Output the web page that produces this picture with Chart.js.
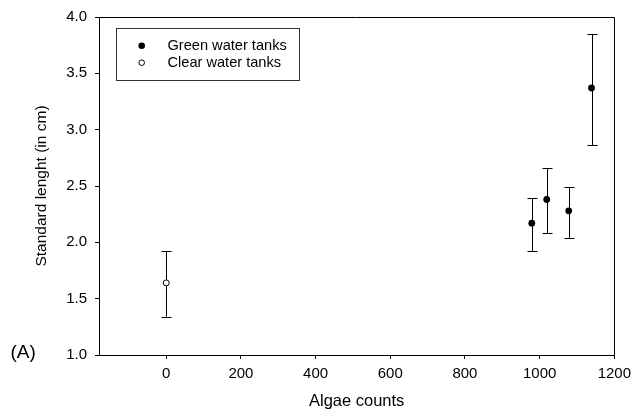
<!DOCTYPE html>
<html>
<head>
<meta charset="utf-8">
<script src="https://cdn.jsdelivr.net/npm/chart.js@4/dist/chart.umd.min.js"></script>
<style>
  html, body { margin: 0; padding: 0; background: #fff; }
  #wrap { width: 637px; height: 413px; }
</style>
</head>
<body>
<div id="wrap"><canvas id="chart" width="637" height="413"></canvas></div>
<script>
// values
const greenX = [979, 1019, 1078, 1139];
const greenY = [2.17, 2.38, 2.28, 3.37];
const greenHigh = [2.39, 2.66, 2.49, 3.85];
const greenLow = [1.92, 2.08, 2.04, 2.86];

const clearX = [0];
const clearY = [1.64];
const clearHigh = [1.92];
const clearLow = [1.34];

const xTicks = [0, 200, 400, 600, 800, 1000, 1200];
const yTicks = [1.0, 1.5, 2.0, 2.5, 3.0, 3.5, 4.0];

const seriesNames = ['Green water tanks', 'Clear water tanks'];
const xTitle = 'Algae counts';
const yTitle = 'Standard lenght (in cm)';
const panelLabel = '(A)';

const FONT = '"Liberation Sans", Arial, sans-serif';
Chart.defaults.font.family = FONT;
Chart.defaults.color = '#000';

function toPoints(xs, ys) {
    return xs.map((x, i) => ({ x: x, y: ys[i] }));
}

// vertical error bars with caps, drawn under the points
const errorBars = {
    id: 'errorBars',
    beforeDatasetsDraw(chart) {
        const ctx = chart.ctx;
        const xs = chart.scales.x, ys = chart.scales.y;
        const sets = [
            [greenX, greenHigh, greenLow],
            [clearX, clearHigh, clearLow]
        ];
        ctx.save();
        ctx.strokeStyle = '#000';
        ctx.lineWidth = 1;
        sets.forEach(([xv, hi, lo]) => {
            xv.forEach((x, i) => {
                const px = Math.round(xs.getPixelForValue(x)) + 0.5;
                const top = ys.getPixelForValue(hi[i]);
                const bot = ys.getPixelForValue(lo[i]);
                ctx.beginPath();
                ctx.moveTo(px, top);
                ctx.lineTo(px, bot);
                ctx.moveTo(px - 5, Math.round(top) + 0.5);
                ctx.lineTo(px + 5, Math.round(top) + 0.5);
                ctx.moveTo(px - 5, Math.round(bot) + 0.5);
                ctx.lineTo(px + 5, Math.round(bot) + 0.5);
                ctx.stroke();
            });
        });
        ctx.restore();
    }
};

// frame on top/right, boxed legend and the panel letter
const extras = {
    id: 'extras',
    afterDraw(chart) {
        const ctx = chart.ctx;
        const a = chart.chartArea;
        ctx.save();
        ctx.strokeStyle = '#000';
        ctx.lineWidth = 1;
        ctx.beginPath();
        ctx.moveTo(a.left, Math.round(a.top) + 0.5);
        ctx.lineTo(Math.round(a.right) + 0.5, Math.round(a.top) + 0.5);
        ctx.lineTo(Math.round(a.right) + 0.5, a.bottom);
        ctx.stroke();

        // legend box
        ctx.strokeStyle = '#333';
        ctx.strokeRect(116.5, 28.5, 183, 52);
        ctx.font = '14.6px ' + FONT;
        ctx.fillStyle = '#000';
        ctx.textBaseline = 'middle';
        ctx.textAlign = 'left';
        const rows = [45.7, 62.7];
        rows.forEach((y, i) => {
            ctx.beginPath();
            ctx.arc(141.7, y, i === 0 ? 3.3 : 2.8, 0, Math.PI * 2);
            if (i === 0) {
                ctx.fillStyle = '#000';
                ctx.fill();
            } else {
                ctx.fillStyle = '#fff';
                ctx.fill();
                ctx.strokeStyle = '#000';
                ctx.stroke();
            }
            ctx.fillStyle = '#000';
            ctx.fillText(seriesNames[i], 167.5, y + 0.5);
        });

        ctx.font = '19px ' + FONT;
        ctx.textBaseline = 'alphabetic';
        ctx.fillText(panelLabel, 10.5, 358);
        ctx.restore();
    }
};

new Chart(document.getElementById('chart').getContext('2d'), {
    type: 'scatter',
    data: {
        datasets: [
            {
                label: seriesNames[0],
                data: toPoints(greenX, greenY),
                pointRadius: 3.4,
                pointBackgroundColor: '#000',
                pointBorderColor: '#000',
                pointBorderWidth: 0
            },
            {
                label: seriesNames[1],
                data: toPoints(clearX, clearY),
                pointRadius: 3,
                pointBackgroundColor: '#fff',
                pointBorderColor: '#000',
                pointBorderWidth: 1
            }
        ]
    },
    options: {
        responsive: false,
        animation: false,
        layout: { padding: { top: 15, right: 17, left: 0, bottom: 0 } },
        plugins: {
            legend: { display: false },
            tooltip: { enabled: false }
        },
        scales: {
            x: {
                type: 'linear',
                min: -180,
                max: 1200,
                afterFit: (s) => { s.height = 58; },
                afterBuildTicks: (s) => { s.ticks = xTicks.map(v => ({ value: v })); },
                ticks: {
                    padding: 6,
                    font: { size: 15 },
                    color: '#000',
                    callback: (v) => String(v)
                },
                grid: {
                    drawOnChartArea: false,
                    drawTicks: true,
                    tickLength: 4,
                    color: '#000'
                },
                border: { display: true, color: '#000', width: 1 },
                title: {
                    display: true,
                    text: xTitle,
                    font: { size: 16.5 },
                    color: '#000',
                    padding: { top: 0, bottom: 2 }
                }
            },
            y: {
                type: 'linear',
                min: 1,
                max: 4,
                afterFit: (s) => { s.width = 99; },
                afterBuildTicks: (s) => { s.ticks = yTicks.map(v => ({ value: v })); },
                ticks: {
                    padding: 8,
                    font: { size: 15 },
                    color: '#000',
                    callback: (v) => v.toFixed(1)
                },
                grid: {
                    drawOnChartArea: false,
                    drawTicks: true,
                    tickLength: 4,
                    color: '#000'
                },
                border: { display: true, color: '#000', width: 1 },
                title: {
                    display: true,
                    text: yTitle,
                    font: { size: 15.5 },
                    color: '#000',
                    padding: { top: 32, bottom: 0 }
                }
            }
        }
    },
    plugins: [errorBars, extras]
});
</script>
</body>
</html>
